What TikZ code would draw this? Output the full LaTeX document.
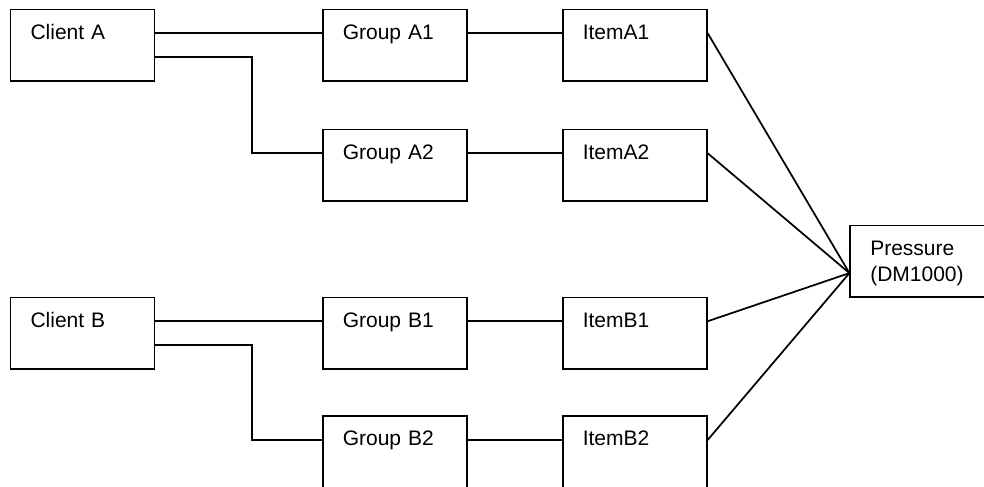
\documentclass[tikz,border=0pt]{standalone}
\usepackage{fontspec}
\setmainfont{Liberation Sans}
\usepackage{tikz}
\usetikzlibrary{positioning}
\tikzstyle{box} = [rectangle, draw=black, line width=1.3pt, fill=none, text=black, align=left, font=\fontsize{15.75}{20}\selectfont, minimum width=108pt, minimum height=53.55pt, text width=78pt, inner xsep=15pt, inner ysep=11pt, text height=11.28pt, text depth=20.27pt]
\tikzstyle{link} = [draw, line width=1.3pt]

\begin{document}
\begin{tikzpicture}[auto]

\useasboundingbox (-61.9pt,-330.7pt) rectangle (676.1pt,33.8pt);

% boxes =============================

% client A row
\node[box] (ca) {Client A};
\node[box, right=124.9pt of ca] (ga1) {Group A1};
\node[box, right=70.7pt of ga1] (ia1) {ItemA1};
\node[box, below=35.2pt of ga1] (ga2) {Group A2};
\node[box, right=70.7pt of ga2] (ia2) {ItemA2};

% client B row
\node[box, below=161.2pt of ca] (cb) {Client B};
\node[box, right=124.9pt of cb] (gb1) {Group B1};
\node[box, right=70.7pt of gb1] (ib1) {ItemB1};
\node[box, below=34.2pt of gb1] (gb2) {Group B2};
\node[box, right=70.7pt of gb2] (ib2) {ItemB2};

% sensor
\node[box, below right=17.2pt and 106.3pt of ia2] (pr) {Pressure\\(DM1000)};


% links client to group

\path[link] ([yshift=8.925pt]ca.east) -- ([yshift=8.925pt]ga1.west);
\path[link] ([yshift=-8.925pt]ca.east) -- ++(72.4pt,0) |- ([yshift=8.925pt]ga2.west);

\path[link] ([yshift=8.925pt]cb.east) -- ([yshift=8.925pt]gb1.west);
\path[link] ([yshift=-8.925pt]cb.east) -- ++(72.4pt,0) |- ([yshift=8.925pt]gb2.west);


% links group to item
\path[link] ([yshift=8.925pt]ga1.east) -- ([yshift=8.925pt]ia1.west);
\path[link] ([yshift=8.925pt]ga2.east) -- ([yshift=8.925pt]ia2.west);
\path[link] ([yshift=8.925pt]gb1.east) -- ([yshift=8.925pt]ib1.west);
\path[link] ([yshift=8.925pt]gb2.east) -- ([yshift=8.925pt]ib2.west);


% links item to sensor
\path[link] ([yshift=8.925pt]ia1.east) -- ([yshift=-8.925pt]pr.west);
\path[link] ([yshift=8.925pt]ia2.east) -- ([yshift=-8.925pt]pr.west);
\path[link] ([yshift=8.925pt]ib1.east) -- ([yshift=-8.925pt]pr.west);
\path[link] ([yshift=8.925pt]ib2.east) -- ([yshift=-8.925pt]pr.west);

\end{tikzpicture}
\end{document}
